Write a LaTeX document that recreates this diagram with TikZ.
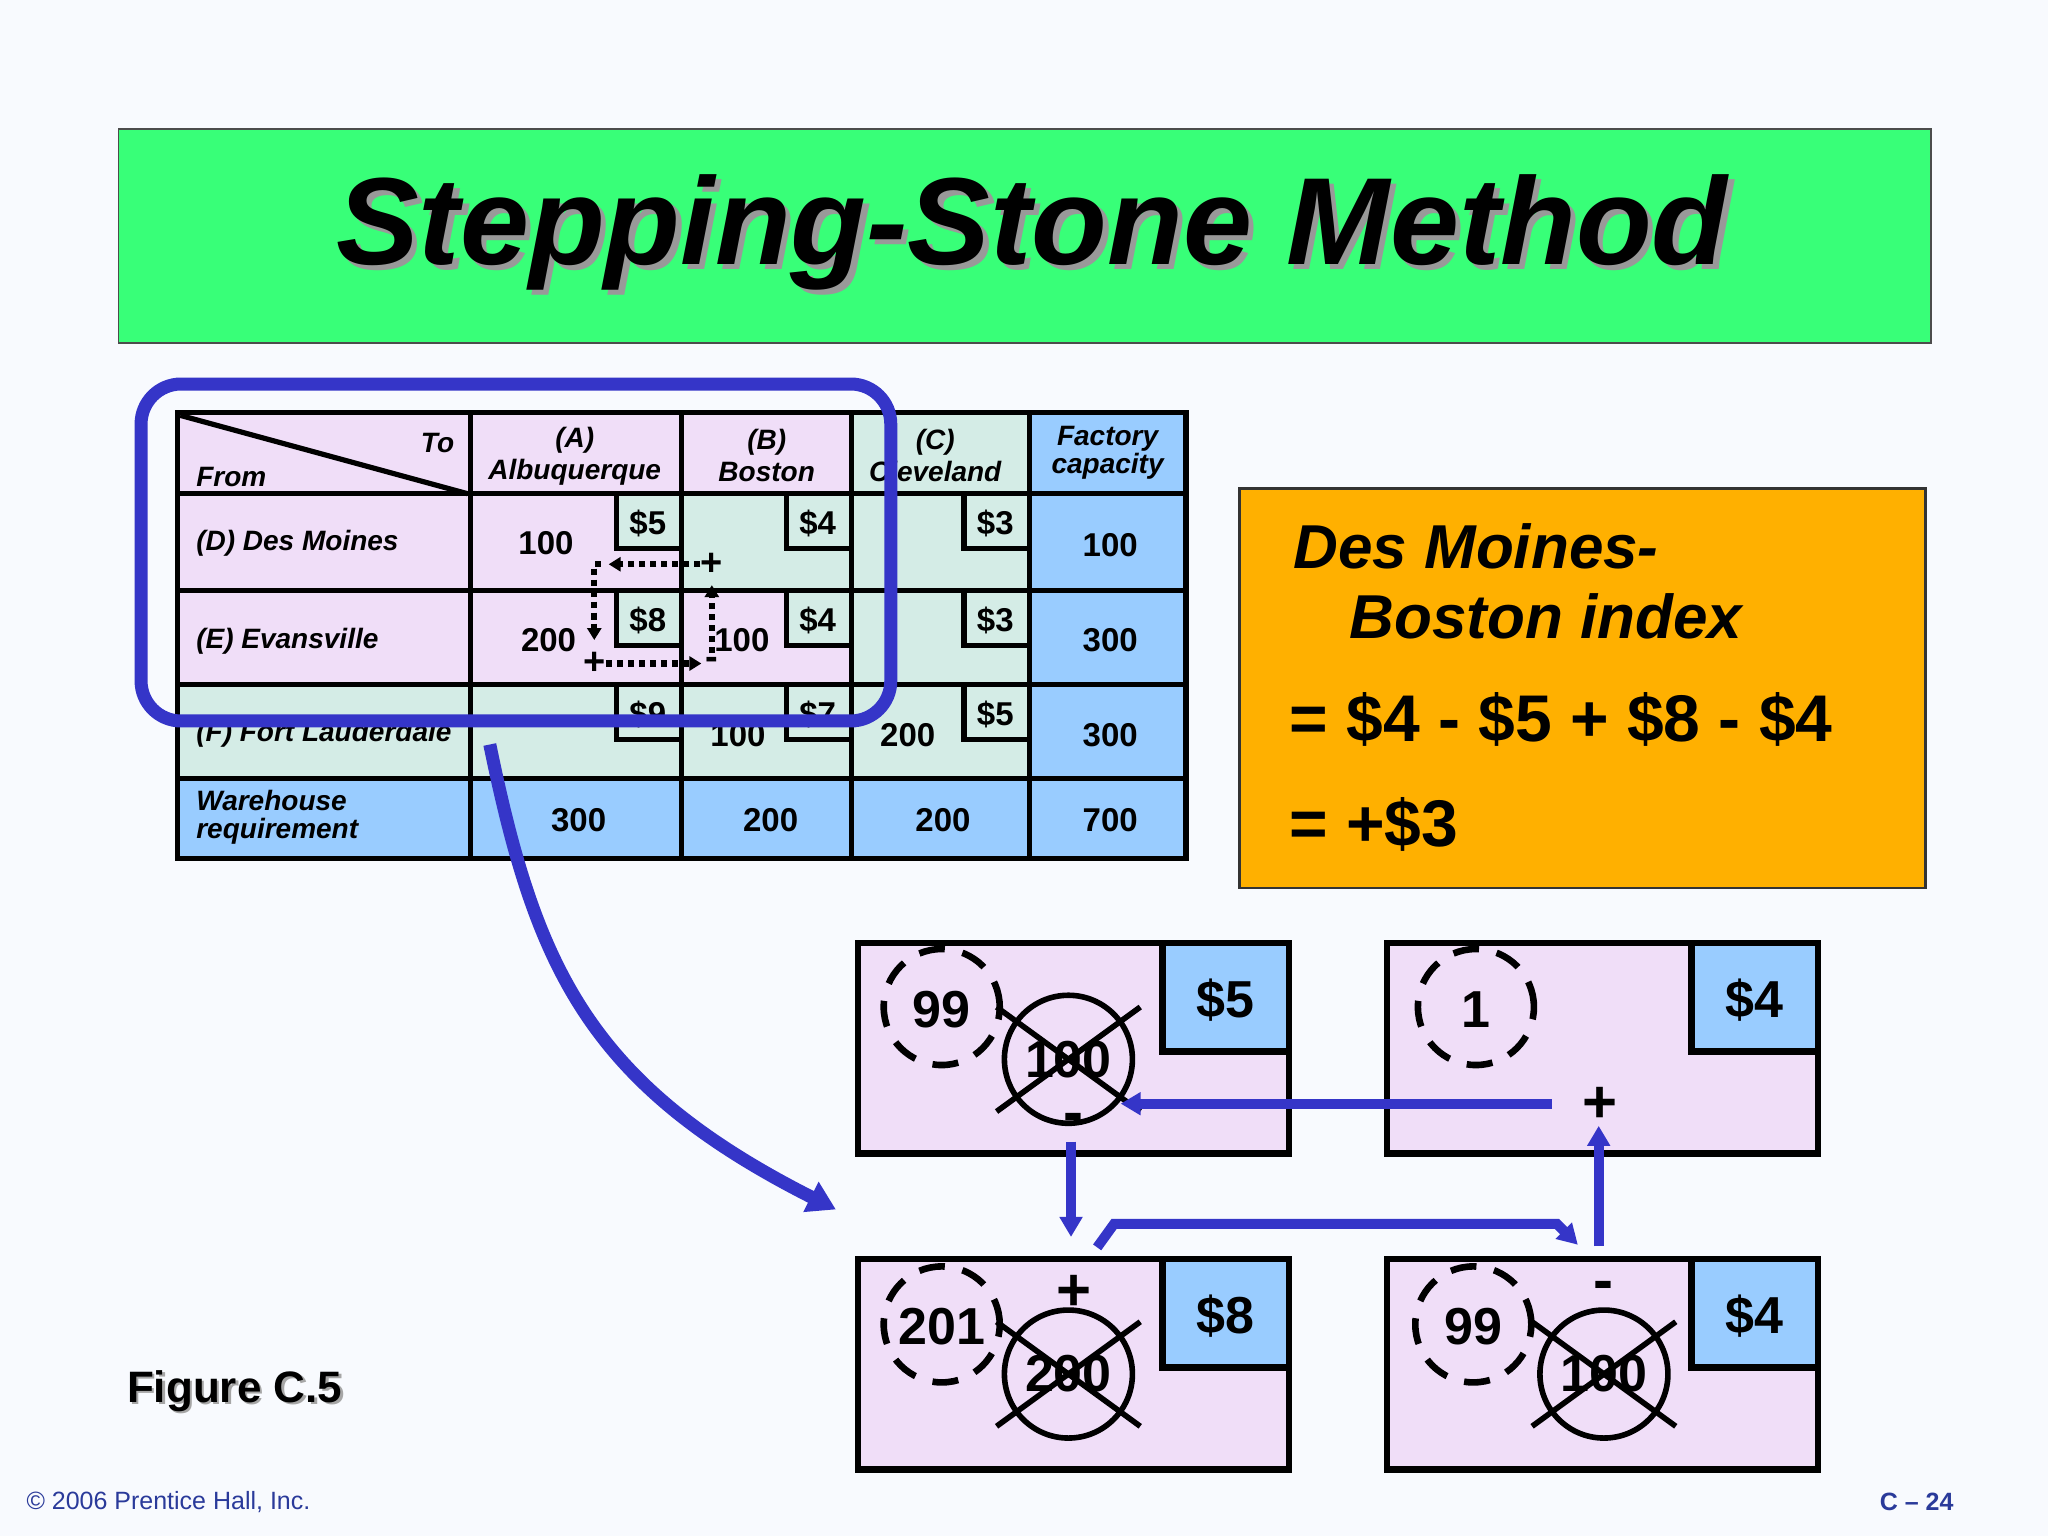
\documentclass[tikz,border=0pt]{standalone}
\usepackage{fontspec}
\setmainfont{Liberation Sans}
\usetikzlibrary{arrows.meta}
\definecolor{bg}{HTML}{F8FAFE}
\definecolor{titlegreen}{HTML}{38FF78}
\definecolor{pinkc}{HTML}{F0DEF8}
\definecolor{tealc}{HTML}{D4ECE6}
\definecolor{bluec}{HTML}{99CCFF}
\definecolor{orangec}{HTML}{FFB000}
\definecolor{loopblue}{HTML}{3535C8}
\definecolor{footblue}{HTML}{2A3A9A}
\newcommand{\fs}[1]{\fontsize{#1}{#1}\selectfont}
\tikzset{
  lbl/.style={font=\fs{14}\bfseries\itshape, anchor=west, inner sep=0},
  hdr/.style={font=\fs{14}\bfseries\itshape, inner sep=0, align=center},
  num/.style={font=\fs{16.5}\bfseries, inner sep=0},
  cost/.style={font=\fs{16.5}\bfseries, inner sep=0},
  gridline/.style={line width=2.6pt},
  dotline/.style={line width=3.2pt, dash pattern=on 3pt off 2.5pt},
  dotarrow/.style={dotline, -{Triangle[width=7pt,length=6pt]}},
  bluearrow/.style={loopblue, line width=5pt, -{Triangle[width=11pt,length=10pt]}},
  bignum/.style={font=\fs{26}\bfseries, inner sep=0},
  dcirc/.style={circle, draw, line width=3.3pt, dash pattern=on 13pt off 9pt, minimum size=58pt, inner sep=0},
  xcirc/.style={circle, draw, line width=2.8pt, minimum size=64pt, inner sep=0},
  sign/.style={font=\fs{30}\bfseries, inner sep=0},
}
\newcommand{\cellfill}[5]{\fill[#5] (#1,#2) rectangle (#3,#4);}
\newcommand{\costbox}[4]{%
  \fill[tealc] (#1-48,#2) rectangle (#1,#2+40);
  \draw[gridline] (#1-48,#2) -- (#1-48,#2+40) -- (#1,#2+40);
  \node[cost] (#4) at (#1-24,#2+21) {#3};}
\newcommand{\bigbox}[5]{% x1 y1 name cost costname
  \fill[pinkc] (#1,#2) rectangle (#1+330,#2+161);
  \fill[bluec] (#1+233,#2) rectangle (#1+330,#2+83);
  \draw[line width=3.3pt] (#1+233,#2) -- (#1+233,#2+83) -- (#1+330,#2+83);
  \draw[line width=3.3pt] (#1,#2) rectangle (#1+330,#2+161);
  \node[bignum] (#5) at (#1+281,#2+44) {#4};
  \coordinate (#3) at (#1,#2);}
\newcommand{\crossed}[4]{% x y text name
  \node[xcirc] (#4) at (#1,#2) {};
  \node[bignum] at (#1,#2) {#3};
  \draw[line width=2.8pt] (#1-55,#2-40) -- (#1+55,#2+40);
  \draw[line width=2.8pt] (#1-55,#2+40) -- (#1+55,#2-40);}
\begin{document}
\begin{tikzpicture}[x=0.653pt,y=-0.653pt]
\fill[bg] (0,0) rectangle (1568,1176);
\useasboundingbox (0,0) rectangle (1568,1176);
% title
\node[draw=black!70, line width=0.8pt, fill=titlegreen, minimum width=1388*0.653pt, minimum height=164*0.653pt, anchor=north west, inner sep=0] (titlebox) at (90,98) {};
\node[font=\fs{62}\bfseries\itshape, text=black!40] (titleshadow) at (794,182) {Stepping-Stone Method};
\node[font=\fs{62}\bfseries\itshape] (title) at (790,178) {Stepping-Stone Method};
% table fills
\cellfill{136}{316}{522}{452}{pinkc}
\cellfill{522}{316}{652}{378}{pinkc}
\cellfill{522}{378}{788}{452}{tealc}
\cellfill{652}{316}{788}{378}{tealc}
\cellfill{136}{452}{652}{524}{pinkc}
\cellfill{652}{452}{788}{524}{tealc}
\cellfill{136}{524}{788}{596}{tealc}
\cellfill{788}{316}{908}{596}{bluec}
\cellfill{136}{596}{908}{657}{bluec}
% cost boxes
\costbox{520}{380}{\$5}{cDA}
\costbox{650}{380}{\$4}{cDB}
\costbox{786}{380}{\$3}{cDC}
\costbox{520}{454}{\$8}{cEA}
\costbox{650}{454}{\$4}{cEB}
\costbox{786}{454}{\$3}{cEC}
\costbox{520}{526}{\$9}{cFA}
\costbox{650}{526}{\$7}{cFB}
\costbox{786}{526}{\$5}{cFC}
% grid
\draw[gridline] (136,316) rectangle (908,657);
\foreach \x in {360,522,652,788} \draw[gridline] (\x,316) -- (\x,657);
\foreach \y in {378,452,524,596} \draw[gridline] (136,\y) -- (908,\y);
\draw[line width=2.6pt] (138,318) -- (358,378);
% headers
\node[hdr, anchor=east] (hto) at (348,339) {To};
\node[lbl] (hfrom) at (150,365) {From};
\node[hdr] (hA) at (440,349) {(A)\\[2pt]Albuquerque};
\node[hdr] (hB) at (587,349) {(B)\\[2pt]Boston};
\node[hdr] (hC) at (716,349) {(C)\\[2pt]Cleveland};
\node[hdr] (hF) at (848,347) {Factory\\capacity};
\node[lbl] (rD) at (150,416) {(D) Des Moines};
\node[lbl] (rE) at (150,491) {(E) Evansville};
\node[lbl] (rF) at (150,562) {(F) Fort Lauderdale};
\node[lbl, align=left] (rW) at (150,626) {Warehouse\\requirement};
% values
\node[num] (vDA) at (418,416) {100};
\node[num] (vEA) at (420,490) {200};
\node[num] (vEB) at (568,490) {100};
\node[num] (vFB) at (565,563) {100};
\node[num] (vFC) at (695,563) {200};
\node[num] (capD) at (850,417) {100};
\node[num] (capE) at (850,490) {300};
\node[num] (capF) at (850,563) {300};
\node[num] (wA) at (443,628) {300};
\node[num] (wB) at (590,628) {200};
\node[num] (wC) at (722,628) {200};
\node[num] (wT) at (850,628) {700};
% dotted path
\node[font=\fs{19}\bfseries, inner sep=0] (pDB) at (545,432) {+};
\node[font=\fs{19}\bfseries, inner sep=0] (pEA) at (455,508) {+};
\node[font=\fs{19}\bfseries, inner sep=0] (mEB) at (545,508) {-};
\coordinate (cDA1) at (455,432);
\draw[dotarrow] (pDB.west) -- (466,432);
\draw[dotline] (460,432) -- (cDA1) -- (455,478);
\draw[dotarrow] (455,470) -- (455,490);
\draw[dotarrow] (pEA.east) -- (537,508);
\draw[dotarrow] (545,500) -- (545,448);
% blue loop
\draw[loopblue, line width=6.5pt, rounded corners=20pt] (108,294) rectangle (682,552);
\coordinate (curS) at (375,570);
\coordinate (curE) at (640,926);
\draw[loopblue, line width=6.5pt, -{Triangle[width=16pt,length=14pt]}] (curS) .. controls (410,740) and (450,830) .. (curE);
% orange box
\node[draw=black!80, line width=1.3pt, fill=orangec, minimum width=525*0.653pt, minimum height=306*0.653pt, anchor=north west, inner sep=0] (obox) at (948,373) {};
\node[font=\fs{31}\bfseries\itshape, anchor=west, inner sep=0] (o1) at (990,418) {Des Moines-};
\node[font=\fs{31}\bfseries\itshape, anchor=west, inner sep=0] (o2) at (1033,472) {Boston index};
\node[font=\fs{33}\bfseries, anchor=west, inner sep=0] (o3) at (987,551) {= \$4 - \$5 + \$8 - \$4};
\node[font=\fs{33}\bfseries, anchor=west, inner sep=0] (o4) at (987,631) {= +\$3};
% four boxes
\bigbox{657}{722}{bTL}{\$5}{kTL}
\bigbox{1062}{722}{bTR}{\$4}{kTR}
\bigbox{657}{964}{bBL}{\$8}{kBL}
\bigbox{1062}{964}{bBR}{\$4}{kBR}
\node[dcirc] (dTL) at (721,771) {}; \node[bignum] at (721,773) {99};
\node[dcirc] (dTR) at (1130,771) {}; \node[bignum] at (1130,773) {1};
\node[dcirc] (dBL) at (721,1014) {}; \node[bignum] at (721,1016) {201};
\node[dcirc] (dBR) at (1128,1014) {}; \node[bignum] at (1128,1016) {99};
\crossed{818}{811}{100}{xTL}
\crossed{818}{1052}{200}{xBL}
\crossed{1228}{1052}{100}{xBR}
\node[sign] (sTL) at (822,860) {-};
\node[sign] (sTR) at (1225,846) {+};
\node[sign] (sBL) at (822,990) {+};
\node[sign] (sBR) at (1228,988) {-};
% blue arrows
\coordinate (a1) at (1188,845);
\coordinate (a1e) at (858,845);
\draw[bluearrow] (a1) -- (a1e);
\coordinate (a2) at (820,874);
\coordinate (a2e) at (820,947);
\draw[bluearrow] (a2) -- (a2e);
\coordinate (a3) at (840,955);
\coordinate (a3e) at (1208,953);
\draw[bluearrow] (a3) -- (853,937) -- (1192,937) -- (a3e);
\coordinate (a4) at (1224,954);
\coordinate (a4e) at (1224,862);
\draw[bluearrow] (a4) -- (a4e);
% figure & footer
\node[font=\fs{22}\bfseries, text=black!35, anchor=west, inner sep=0] (figshadow) at (99,1067) {Figure C.5};
\node[font=\fs{22}\bfseries, anchor=west, inner sep=0] (fig) at (97,1065) {Figure C.5};
\node[font=\fs{12.5}, text=footblue, anchor=west, inner sep=0] (copy) at (20,1150) {© 2006 Prentice Hall, Inc.};
\node[font=\fs{12.5}\bfseries, text=footblue, anchor=east, inner sep=0] (pg) at (1496,1150) {C – 24};
\end{tikzpicture}
\end{document}
